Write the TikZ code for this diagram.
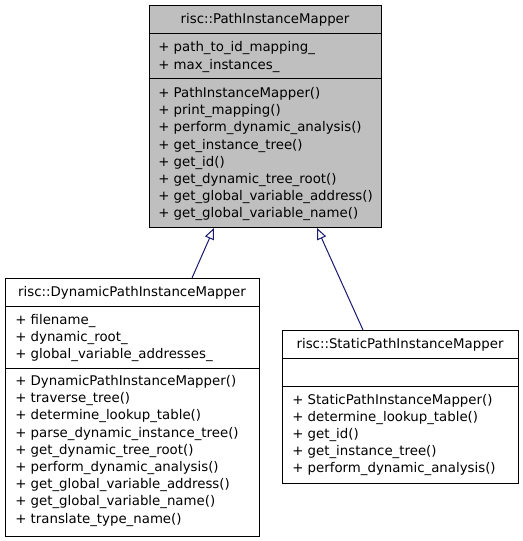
\documentclass[tikz,border=0pt]{standalone}
\usepackage{fontspec}
\setmainfont{DejaVu Sans}
\usetikzlibrary{arrows.meta,calc}
\definecolor{edgeblue}{RGB}{25,25,112}
\definecolor{basegray}{RGB}{191,191,191}
\begin{document}
\begin{tikzpicture}[x=0.75pt,y=-0.75pt,
  classbox/.style={draw=black,line width=0.75pt,rectangle,inner sep=0pt,outer sep=0pt},
  member/.style={anchor=base west,inner sep=0pt,font=\fontsize{10}{12}\selectfont},
  classtitle/.style={anchor=base,inner sep=0pt,font=\fontsize{10}{12}\selectfont},
  divider/.style={draw=black,line width=0.75pt},
  inherit/.style={draw=edgeblue,line width=0.75pt,-{Triangle[open,length=8.5pt,width=7.2pt,fill=white]}}]
\useasboundingbox (0,0) rectangle (523,541);

% base class
\node[classbox,fill=basegray,minimum width=232*0.75pt,minimum height=222*0.75pt] (base) at (265,117) {};
\draw[divider] (149,34) -- (381,34);
\draw[divider] (149,79) -- (381,79);
\node[classtitle] (basetitle) at (265,23.5) {risc::PathInstanceMapper};
\foreach [count=\i] \t in {+ path\_to\_id\_mapping\_, + max\_instances\_}
  \node[member] (ba\i) at (158,{52+17.2*(\i-1)}) {\t};
\foreach [count=\i] \t in {+ PathInstanceMapper(), + print\_mapping(), + perform\_dynamic\_analysis(), + get\_instance\_tree(), + get\_id(), + get\_dynamic\_tree\_root(), + get\_global\_variable\_address(), + get\_global\_variable\_name()}
  \node[member] (bm\i) at (158,{97.5+17.2*(\i-1)}) {\t};

% dynamic
\node[classbox,fill=white,minimum width=254*0.75pt,minimum height=258*0.75pt] (dyn) at (132,407) {};
\draw[divider] (5,306) -- (259,306);
\draw[divider] (5,368) -- (259,368);
\node[classtitle] (dyntitle) at (132,296.5) {risc::DynamicPathInstanceMapper};
\foreach [count=\i] \t in {+ filename\_, + dynamic\_root\_, + global\_variable\_addresses\_}
  \node[member] (da\i) at (15,{324+17.2*(\i-1)}) {\t};
\foreach [count=\i] \t in {+ DynamicPathInstanceMapper(), + traverse\_tree(), + determine\_lookup\_table(), + parse\_dynamic\_instance\_tree(), + get\_dynamic\_tree\_root(), + perform\_dynamic\_analysis(), + get\_global\_variable\_address(), + get\_global\_variable\_name(), + translate\_type\_name()}
  \node[member] (dm\i) at (15,{385.5+17.2*(\i-1)}) {\t};

% static
\node[classbox,fill=white,minimum width=236*0.75pt,minimum height=153*0.75pt] (stat) at (400,406.5) {};
\draw[divider] (282,358) -- (518,358);
\draw[divider] (282,386) -- (518,386);
\node[classtitle] (stattitle) at (400,348.5) {risc::StaticPathInstanceMapper};
\foreach [count=\i] \t in {+ StaticPathInstanceMapper(), + determine\_lookup\_table(), + get\_id(), + get\_instance\_tree(), + perform\_dynamic\_analysis()}
  \node[member] (sm\i) at (292,{404+17.2*(\i-1)}) {\t};

% inheritance
\draw[inherit] ($(dyn.north west)+(187,0)$) -- ($(base.south west)+(65,0)$);
\draw[inherit] ($(stat.north west)+(81,0)$) -- ($(base.south west)+(168,0)$);
\end{tikzpicture}
\end{document}
